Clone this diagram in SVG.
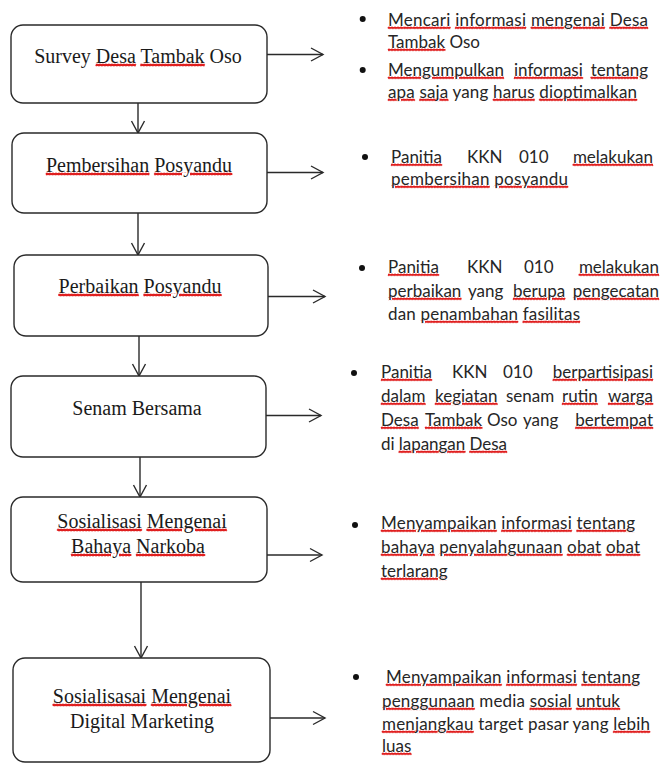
<svg xmlns="http://www.w3.org/2000/svg" width="662" height="767" viewBox="0 0 662 767">
<defs>
<style>
.box{fill:#fff;stroke:#2a2a2a;stroke-width:1.4}
.lt{font-family:"Liberation Serif","Times New Roman",serif;font-size:20px;fill:#1a1a1a;text-anchor:middle}
.rt{font-family:Lato,"Liberation Sans",sans-serif;font-size:17px;fill:#262626}
.end{text-anchor:end}
.conn{stroke:#2a2a2a;stroke-width:1.4;fill:none}
.w{text-decoration:underline;fill:#e02020;stroke:#e02020;stroke-width:0.6;stroke-dasharray:2 1}
.k{fill:#262626;stroke:none}
.lt .k{fill:#1a1a1a}
.dot{fill:#111}
</style>
<marker id="ah" markerUnits="userSpaceOnUse" markerWidth="16" markerHeight="16" viewBox="-14 -8 16 16" refX="0" refY="0" orient="auto">
<path d="M-12,-6.5 L0,0 L-12,6.5" fill="none" stroke="#2a2a2a" stroke-width="1.4"/>
</marker>
</defs>
<rect width="662" height="767" fill="#fff"/>

<g id="connectors">
<line class="conn" x1="138" y1="103" x2="138" y2="133" marker-end="url(#ah)"/>
<line class="conn" x1="138" y1="213" x2="138" y2="255" marker-end="url(#ah)"/>
<line class="conn" x1="139" y1="336" x2="139" y2="376" marker-end="url(#ah)"/>
<line class="conn" x1="140" y1="457" x2="140" y2="497" marker-end="url(#ah)"/>
<line class="conn" x1="141" y1="582" x2="141" y2="658" marker-end="url(#ah)"/>
<line class="conn" x1="267" y1="54.5" x2="323" y2="54.5" marker-end="url(#ah)"/>
<line class="conn" x1="267" y1="172.5" x2="323" y2="172.5" marker-end="url(#ah)"/>
<line class="conn" x1="268" y1="296.5" x2="325" y2="296.5" marker-end="url(#ah)"/>
<line class="conn" x1="266" y1="415.5" x2="321" y2="415.5" marker-end="url(#ah)"/>
<line class="conn" x1="267" y1="555" x2="322" y2="555" marker-end="url(#ah)"/>
<line class="conn" x1="270" y1="718" x2="325" y2="718" marker-end="url(#ah)"/>
</g>

<g id="n1">
<rect class="box" x="11" y="25" width="256" height="78" rx="12"/>
<text class="lt" x="138" y="63">Survey <tspan class="w"><tspan class="k">Desa</tspan></tspan> <tspan class="w"><tspan class="k">Tambak</tspan></tspan> Oso</text>
</g>
<g id="n2">
<rect class="box" x="12" y="133" width="255" height="80" rx="12"/>
<text class="lt" x="139" y="172"><tspan class="w"><tspan class="k">Pembersihan</tspan></tspan> <tspan class="w"><tspan class="k">Posyandu</tspan></tspan></text>
</g>
<g id="n3">
<rect class="box" x="14" y="255" width="254" height="81" rx="12"/>
<text class="lt" x="140" y="293"><tspan class="w"><tspan class="k">Perbaikan</tspan></tspan> <tspan class="w"><tspan class="k">Posyandu</tspan></tspan></text>
</g>
<g id="n4">
<rect class="box" x="11" y="376" width="255" height="81" rx="12"/>
<text class="lt" x="137" y="415">Senam Bersama</text>
</g>
<g id="n5">
<rect class="box" x="11" y="497" width="256" height="85" rx="12"/>
<text class="lt" x="142" y="528"><tspan class="w"><tspan class="k">Sosialisasi</tspan></tspan> <tspan class="w"><tspan class="k">Mengenai</tspan></tspan></text>
<text class="lt" x="138" y="553"><tspan class="w"><tspan class="k">Bahaya</tspan></tspan> <tspan class="w"><tspan class="k">Narkoba</tspan></tspan></text>
</g>
<g id="n6">
<rect class="box" x="13" y="658" width="257" height="104" rx="12"/>
<text class="lt" x="142" y="703"><tspan class="w"><tspan class="k">Sosialisasai</tspan></tspan> <tspan class="w"><tspan class="k">Mengenai</tspan></tspan></text>
<text class="lt" x="142" y="728">Digital Marketing</text>
</g>

<g id="d1">
<circle class="dot" cx="362.7" cy="19" r="3"/>
<text class="rt" x="388" y="26" textLength="260" lengthAdjust="spacing"><tspan class="w"><tspan class="k">Mencari</tspan></tspan> <tspan class="w"><tspan class="k">informasi</tspan></tspan> <tspan class="w"><tspan class="k">mengenai</tspan></tspan> <tspan class="w"><tspan class="k">Desa</tspan></tspan></text>
<text class="rt" x="388" y="48"><tspan class="w"><tspan class="k">Tambak</tspan></tspan> Oso</text>
<circle class="dot" cx="362.7" cy="70" r="3"/>
<text class="rt" x="388" y="76"><tspan class="w"><tspan class="k">Mengumpulkan</tspan></tspan></text>
<text class="rt" x="514" y="76"><tspan class="w"><tspan class="k">informasi</tspan></tspan></text>
<text class="rt end" x="648" y="76"><tspan class="w"><tspan class="k">tentang</tspan></tspan></text>
<text class="rt" x="388" y="98" textLength="249" lengthAdjust="spacing"><tspan class="w"><tspan class="k">apa</tspan></tspan> <tspan class="w"><tspan class="k">saja</tspan></tspan> yang <tspan class="w"><tspan class="k">harus</tspan></tspan> <tspan class="w"><tspan class="k">dioptimalkan</tspan></tspan></text>
</g>

<g id="d2">
<circle class="dot" cx="365" cy="157" r="3"/>
<text class="rt" x="391" y="163"><tspan class="w"><tspan class="k">Panitia</tspan></tspan></text>
<text class="rt" x="467" y="163">KKN</text>
<text class="rt" x="519" y="163">010</text>
<text class="rt end" x="653" y="163"><tspan class="w"><tspan class="k">melakukan</tspan></tspan></text>
<text class="rt" x="391" y="185" textLength="177" lengthAdjust="spacing"><tspan class="w"><tspan class="k">pembersihan</tspan></tspan> <tspan class="w"><tspan class="k">posyandu</tspan></tspan></text>
</g>

<g id="d3">
<circle class="dot" cx="362" cy="268" r="3"/>
<text class="rt" x="388" y="273"><tspan class="w"><tspan class="k">Panitia</tspan></tspan></text>
<text class="rt" x="467" y="273">KKN</text>
<text class="rt" x="524" y="273">010</text>
<text class="rt end" x="659" y="273"><tspan class="w"><tspan class="k">melakukan</tspan></tspan></text>
<text class="rt" x="388" y="297"><tspan class="w"><tspan class="k">perbaikan</tspan></tspan></text>
<text class="rt" x="468" y="297">yang</text>
<text class="rt" x="513" y="297"><tspan class="w"><tspan class="k">berupa</tspan></tspan></text>
<text class="rt end" x="659" y="297"><tspan class="w"><tspan class="k">pengecatan</tspan></tspan></text>
<text class="rt" x="388" y="320" textLength="192" lengthAdjust="spacing">dan <tspan class="w"><tspan class="k">penambahan</tspan></tspan> <tspan class="w"><tspan class="k">fasilitas</tspan></tspan></text>
</g>

<g id="d4">
<circle class="dot" cx="354" cy="373" r="3"/>
<text class="rt" x="381" y="378"><tspan class="w"><tspan class="k">Panitia</tspan></tspan></text>
<text class="rt" x="452" y="378">KKN</text>
<text class="rt" x="503" y="378">010</text>
<text class="rt end" x="653" y="378"><tspan class="w"><tspan class="k">berpartisipasi</tspan></tspan></text>
<text class="rt" x="381" y="402"><tspan class="w"><tspan class="k">dalam</tspan></tspan></text>
<text class="rt" x="435" y="402"><tspan class="w"><tspan class="k">kegiatan</tspan></tspan></text>
<text class="rt" x="506" y="402">senam</text>
<text class="rt" x="562" y="402"><tspan class="w"><tspan class="k">rutin</tspan></tspan></text>
<text class="rt end" x="653" y="402"><tspan class="w"><tspan class="k">warga</tspan></tspan></text>
<text class="rt" x="381" y="426"><tspan class="w"><tspan class="k">Desa</tspan></tspan></text>
<text class="rt" x="425" y="426"><tspan class="w"><tspan class="k">Tambak</tspan></tspan></text>
<text class="rt" x="487" y="426">Oso</text>
<text class="rt" x="523" y="426">yang</text>
<text class="rt end" x="653" y="426"><tspan class="w"><tspan class="k">bertempat</tspan></tspan></text>
<text class="rt" x="381" y="450" textLength="126" lengthAdjust="spacing">di <tspan class="w"><tspan class="k">lapangan</tspan></tspan> <tspan class="w"><tspan class="k">Desa</tspan></tspan></text>
</g>

<g id="d5">
<circle class="dot" cx="355" cy="525" r="3"/>
<text class="rt" x="381" y="529" textLength="254" lengthAdjust="spacing"><tspan class="w"><tspan class="k">Menyampaikan</tspan></tspan> <tspan class="w"><tspan class="k">informasi</tspan></tspan> <tspan class="w"><tspan class="k">tentang</tspan></tspan></text>
<text class="rt" x="381" y="553" textLength="259" lengthAdjust="spacing"><tspan class="w"><tspan class="k">bahaya</tspan></tspan> <tspan class="w"><tspan class="k">penyalahgunaan</tspan></tspan> <tspan class="w"><tspan class="k">obat</tspan></tspan> <tspan class="w"><tspan class="k">obat</tspan></tspan></text>
<text class="rt" x="381" y="577"><tspan class="w"><tspan class="k">terlarang</tspan></tspan></text>
</g>

<g id="d6">
<circle class="dot" cx="356" cy="677" r="3"/>
<text class="rt" x="386" y="683" textLength="254" lengthAdjust="spacing"><tspan class="w"><tspan class="k">Menyampaikan</tspan></tspan> <tspan class="w"><tspan class="k">informasi</tspan></tspan> <tspan class="w"><tspan class="k">tentang</tspan></tspan></text>
<text class="rt" x="382" y="707" textLength="238" lengthAdjust="spacing"><tspan class="w"><tspan class="k">penggunaan</tspan></tspan> media <tspan class="w"><tspan class="k">sosial</tspan></tspan> <tspan class="w"><tspan class="k">untuk</tspan></tspan></text>
<text class="rt" x="382" y="730" textLength="268" lengthAdjust="spacing"><tspan class="w"><tspan class="k">menjangkau</tspan></tspan> target pasar yang <tspan class="w"><tspan class="k">lebih</tspan></tspan></text>
<text class="rt" x="382" y="752"><tspan class="w"><tspan class="k">luas</tspan></tspan></text>
</g>
</svg>
